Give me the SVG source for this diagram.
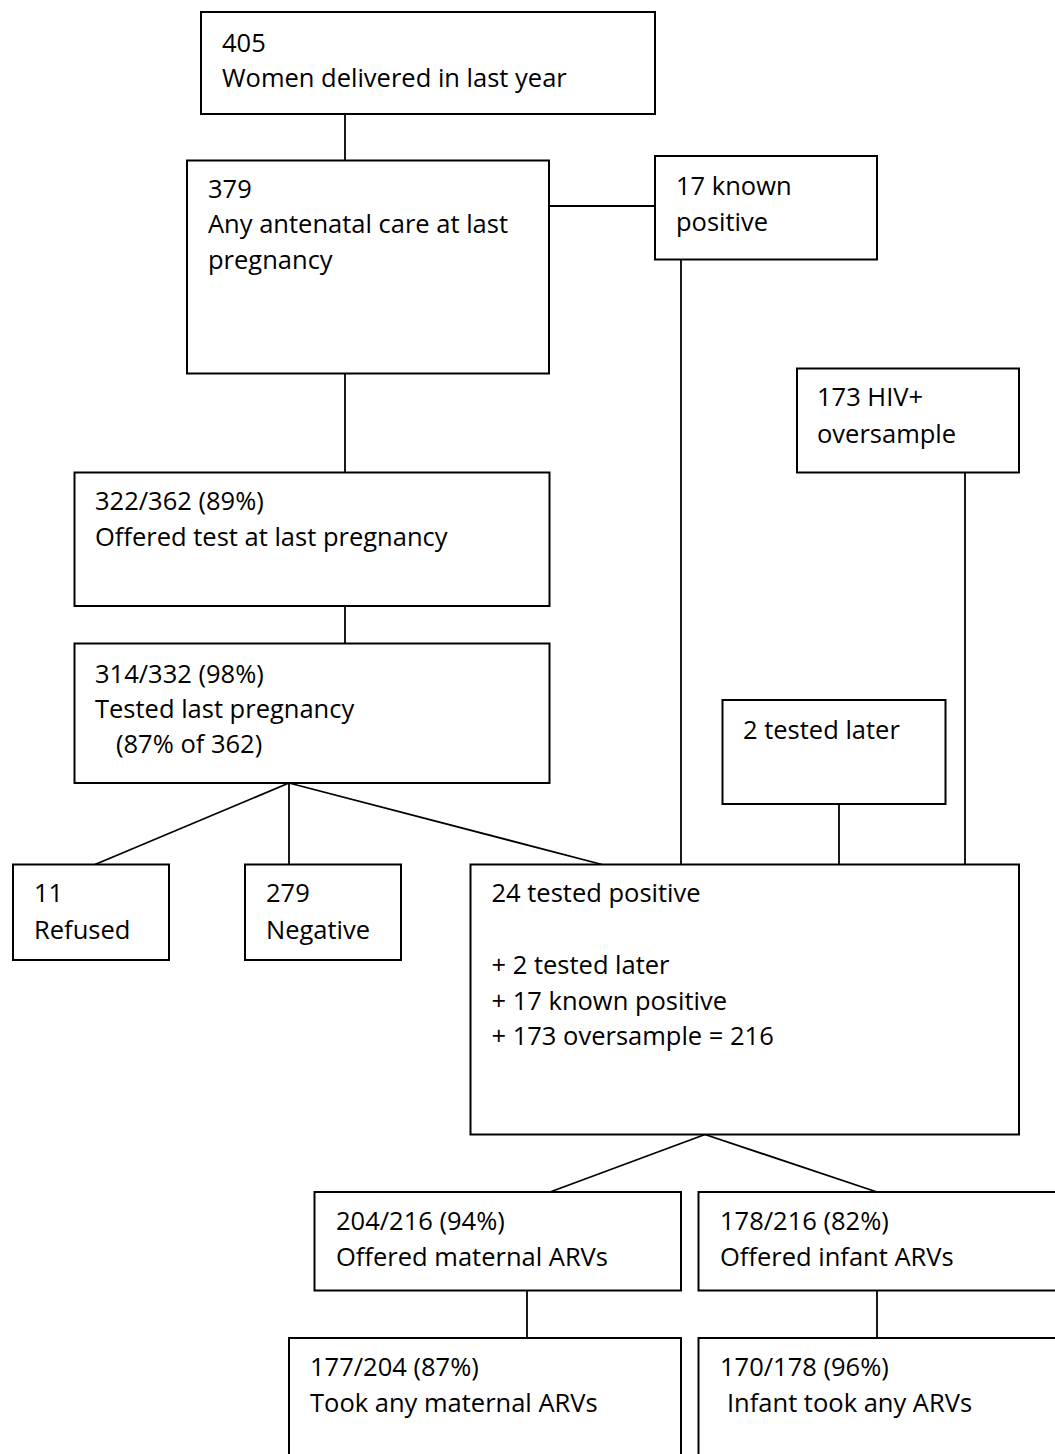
<svg xmlns="http://www.w3.org/2000/svg" width="1055" height="1454" viewBox="0 0 1055 1454">
<style>
.box{fill:#fff;stroke:#000;stroke-width:2}
.c line{stroke:#000;stroke-width:1.8}
text{font-family:"Open Sans","Liberation Sans",sans-serif;font-size:25.5px;fill:#000}
</style>
<rect width="1055" height="1454" fill="#fff"/>
<g id="connectors" class="c">
<line x1="345" y1="114" x2="345" y2="160.5"/>
<line x1="549" y1="206" x2="655" y2="206"/>
<line x1="681" y1="259.5" x2="681" y2="864.5"/>
<line x1="345" y1="373.5" x2="345" y2="472.5"/>
<line x1="965" y1="472.5" x2="965" y2="864.5"/>
<line x1="345" y1="606" x2="345" y2="643.5"/>
<line x1="839" y1="804" x2="839" y2="864.5"/>
<line x1="289" y1="783" x2="95" y2="864.5"/>
<line x1="289" y1="783" x2="289" y2="864.5"/>
<line x1="289" y1="783" x2="602" y2="864.5"/>
<line x1="705" y1="1134.5" x2="550" y2="1192"/>
<line x1="705" y1="1134.5" x2="877" y2="1192"/>
<line x1="527" y1="1290.5" x2="527" y2="1338"/>
<line x1="877" y1="1290.5" x2="877" y2="1338"/>
</g>
<g id="n405"><rect class="box" x="201" y="12" width="454" height="102"/>
<text x="222" y="52">405</text><text x="222" y="87">Women delivered in last year</text></g>
<g id="n379"><rect class="box" x="187" y="160.5" width="362" height="213"/>
<text x="208" y="198">379</text><text x="208" y="233">Any antenatal care at last</text><text x="208" y="269">pregnancy</text></g>
<g id="nKnown"><rect class="box" x="655" y="156" width="222" height="103.5"/>
<text x="676" y="195">17 known</text><text x="676" y="231">positive</text></g>
<g id="nOversample"><rect class="box" x="797" y="368.5" width="222" height="104"/>
<text x="817" y="406">173 HIV+</text><text x="817" y="443">oversample</text></g>
<g id="nOffered"><rect class="box" x="74.5" y="472.5" width="475" height="133.5"/>
<text x="95" y="510">322/362 (89%)</text><text x="95" y="546">Offered test at last pregnancy</text></g>
<g id="nTested"><rect class="box" x="74.5" y="643.5" width="475" height="139.5"/>
<text x="95" y="683">314/332 (98%)</text><text x="95" y="718">Tested last pregnancy</text><text x="116" y="753">(87% of 362)</text></g>
<g id="nLater"><rect class="box" x="722.5" y="700" width="223" height="104"/>
<text x="743" y="739">2 tested later</text></g>
<g id="nRefused"><rect class="box" x="13" y="864.5" width="156" height="95.5"/>
<text x="34" y="901.5">11</text><text x="34" y="939">Refused</text></g>
<g id="nNegative"><rect class="box" x="245" y="864.5" width="156" height="95.5"/>
<text x="266" y="901.5">279</text><text x="266" y="939">Negative</text></g>
<g id="nPositive"><rect class="box" x="470.5" y="864.5" width="548.5" height="270"/>
<text x="491.5" y="901.5">24 tested positive</text><text x="491.5" y="974">+ 2 tested later</text><text x="491.5" y="1010">+ 17 known positive</text><text x="491.5" y="1045">+ 173 oversample = 216</text></g>
<g id="nMatOffered"><rect class="box" x="314.5" y="1192" width="366.5" height="98.5"/>
<text x="336" y="1230">204/216 (94%)</text><text x="336" y="1266">Offered maternal ARVs</text></g>
<g id="nInfOffered"><rect class="box" x="698.5" y="1192" width="370" height="98.5"/>
<text x="720" y="1230">178/216 (82%)</text><text x="720" y="1266">Offered infant ARVs</text></g>
<g id="nMatTook"><rect class="box" x="289" y="1338" width="392" height="130"/>
<text x="310" y="1376">177/204 (87%)</text><text x="310" y="1412">Took any maternal ARVs</text></g>
<g id="nInfTook"><rect class="box" x="698.5" y="1338" width="370" height="130"/>
<text x="720" y="1376">170/178 (96%)</text><text x="727" y="1412">Infant took any ARVs</text></g>
</svg>
